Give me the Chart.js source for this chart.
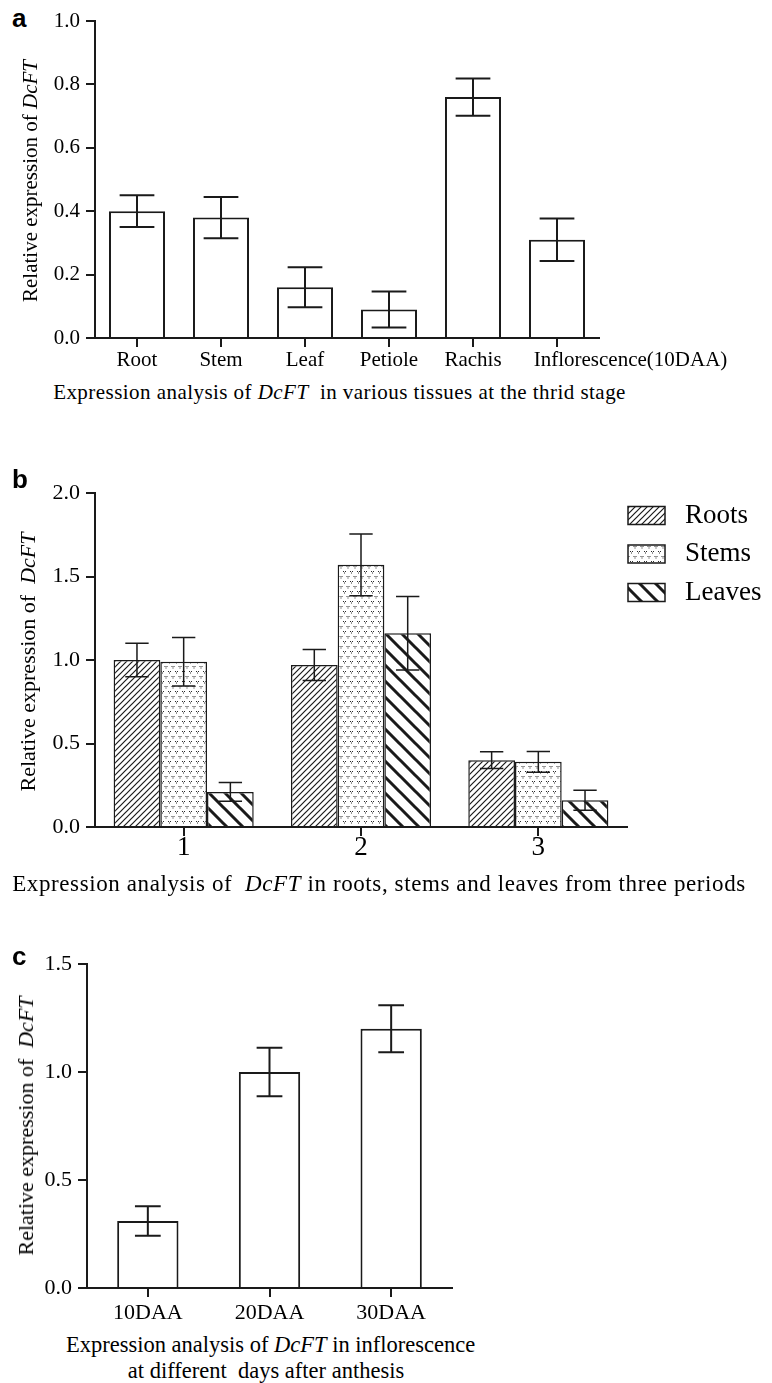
<!DOCTYPE html>
<html>
<head>
<meta charset="utf-8">
<script src="https://cdn.jsdelivr.net/npm/chart.js@4.4.0/dist/chart.umd.min.js"></script>
<style>
  html, body { margin: 0; padding: 0; background: #fff; }
  #page { position: relative; width: 772px; height: 1383px; overflow: hidden;
          font-family: "Liberation Serif", "Times New Roman", serif; color: #000; }
  canvas { position: absolute; left: 0; }
  .tag { position: absolute; left: 12px; font-family: "Liberation Sans", Arial, sans-serif;
         font-weight: bold; font-size: 26px; line-height: 26px; }
  .cap { position: absolute; white-space: nowrap; text-align: center; font-size: 21px; line-height: 20px; }
  .ytitle { position: absolute; white-space: nowrap; font-size: 21px; line-height: 20px;
            transform: translate(-50%, -50%) rotate(-90deg); }
</style>
</head>
<body>
<div id="page">
  <div class="tag" style="top:5px">a</div>
  <canvas id="chartTissues" width="772" height="376" style="top:0px"></canvas>
  <div class="ytitle" style="left:30px; top:181px">Relative expression of <i>DcFT</i></div>
  <div class="cap" style="left:52px; width:575px; top:382px; letter-spacing:0.45px">Expression analysis of <i>DcFT</i>&nbsp; in various tissues at the thrid stage</div>

  <div class="tag" style="top:466px">b</div>
  <canvas id="chartPeriods" width="772" height="430" style="top:440px"></canvas>
  <div class="ytitle" style="left:28px; top:662px; font-size:22px">Relative expression of&nbsp; <i>DcFT</i></div>
  <div class="cap" style="left:10px; width:738px; top:874px; font-size:23px; letter-spacing:0.6px">Expression analysis of&nbsp; <i>DcFT</i> in roots, stems and leaves from three periods</div>

  <div class="tag" style="top:943px">c</div>
  <canvas id="chartStages" width="772" height="400" style="top:930px"></canvas>
  <div class="ytitle" style="left:26px; top:1126px; font-size:22px">Relative expression of&nbsp; <i>DcFT</i></div>
  <div class="cap" style="left:66px; width:400px; top:1332px; line-height:26px; font-size:22.5px">Expression analysis of <i>DcFT</i> in inflorescence<br>at different&nbsp; days after anthesis</div>
</div>

<script>
// panel a
const tissueLabels = ['Root', 'Stem', 'Leaf', 'Petiole', 'Rachis', 'Inflorescence(10DAA)'];
const tissueMeans = [0.40, 0.38, 0.16, 0.09, 0.76, 0.31];
const tissueErrors = [0.05, 0.065, 0.063, 0.057, 0.059, 0.067];
const tissueTicks = [0, 0.2, 0.4, 0.6, 0.8, 1.0];

// panel b
const periodLabels = ['1', '2', '3'];
const rootsMeans = [1.00, 0.97, 0.40];
const rootsErrors = [0.10, 0.093, 0.05];
const stemsMeans = [0.99, 1.57, 0.39];
const stemsErrors = [0.145, 0.185, 0.062];
const leavesMeans = [0.21, 1.16, 0.16];
const leavesErrors = [0.056, 0.22, 0.06];
const periodTicks = [0, 0.5, 1.0, 1.5, 2.0];

// panel c
const stageLabels = ['10DAA', '20DAA', '30DAA'];
const stageMeans = [0.31, 1.00, 1.20];
const stageErrors = [0.068, 0.112, 0.109];
const stageTicks = [0, 0.5, 1.0, 1.5];

const ink = '#1a1a1a';

function hatch(size, width, dir) {
    const c = document.createElement('canvas');
    c.width = c.height = size;
    const g = c.getContext('2d');
    g.fillStyle = '#fff';
    g.fillRect(0, 0, size, size);
    g.strokeStyle = ink;
    g.lineWidth = width;
    g.beginPath();
    for (const k of [-size, 0, size]) {
        if (dir > 0) {
            g.moveTo(-2, size + k + 2); g.lineTo(size + 2, k - 2);
        } else {
            g.moveTo(-2, k - 2); g.lineTo(size + 2, size + k + 2);
        }
    }
    g.stroke();
    return g.createPattern(c, 'repeat');
}

// little three-dot marks, staggered
function dots() {
    const c = document.createElement('canvas');
    c.width = 7; c.height = 10;
    const g = c.getContext('2d');
    g.fillStyle = '#fff';
    g.fillRect(0, 0, 7, 10);
    g.fillStyle = '#2a2a2a';
    for (const [x, y] of [[1.5, 2], [5, 7]]) {
        g.fillRect(x - 1.5, y - 1, 1, 1);
        g.fillRect(x + 0.5, y - 1, 1, 1);
        g.fillRect(x - 0.5, y + 0.5, 1, 1);
    }
    return g.createPattern(c, 'repeat');
}

// mean +/- error whiskers drawn on top of the bars
const errorBars = {
    id: 'errorBars',
    afterDatasetsDraw(chart, args, opts) {
        const ctx = chart.ctx;
        const y = chart.scales.y;
        ctx.save();
        ctx.strokeStyle = ink;
        ctx.lineWidth = opts.lineWidth;
        chart.data.datasets.forEach((ds, i) => {
            chart.getDatasetMeta(i).data.forEach((bar, j) => {
                const top = y.getPixelForValue(ds.data[j] + ds.errors[j]);
                const bot = y.getPixelForValue(ds.data[j] - ds.errors[j]);
                const half = bar.width * opts.cap / 2;
                ctx.beginPath();
                ctx.moveTo(bar.x, top); ctx.lineTo(bar.x, bot);
                ctx.moveTo(bar.x - half, top); ctx.lineTo(bar.x + half, top);
                ctx.moveTo(bar.x - half, bot); ctx.lineTo(bar.x + half, bot);
                ctx.stroke();
            });
        });
        ctx.restore();
    }
};

// legend at the right of panel b
const sideLegend = {
    id: 'sideLegend',
    afterDraw(chart, args, opts) {
        const ctx = chart.ctx;
        const area = chart.chartArea;
        ctx.save();
        chart.data.datasets.forEach((ds, i) => {
            const x = area.right + opts.dx;
            const y = area.top + opts.dy + i * opts.gap;
            ctx.fillStyle = ds.backgroundColor;
            ctx.fillRect(x, y, opts.w, opts.h);
            ctx.strokeStyle = ink;
            ctx.lineWidth = 1.5;
            ctx.strokeRect(x, y, opts.w, opts.h);
            ctx.fillStyle = '#000';
            ctx.font = opts.font;
            ctx.textBaseline = 'middle';
            ctx.fillText(ds.label, x + opts.w + opts.textGap, y + opts.h / 2);
        });
        ctx.restore();
    }
};

function scales(ticks, yWidth, xHeight, xSize, ySize, xPad) {
    const line = { display: true, drawOnChartArea: false, offset: false, tickLength: 9, color: ink, lineWidth: 2 };
    return {
        x: {
            grid: line,
            border: { display: true, color: ink, width: 2 },
            ticks: { color: '#000', font: { family: 'Liberation Serif', size: xSize }, padding: xPad, maxRotation: 0, autoSkip: false },
            afterFit: s => { s.height = xHeight; }
        },
        y: {
            min: ticks[0],
            max: ticks[ticks.length - 1],
            grid: line,
            border: { display: true, color: ink, width: 2 },
            ticks: { color: '#000', font: { family: 'Liberation Serif', size: ySize }, padding: 6, callback: v => v.toFixed(1) },
            afterBuildTicks: s => { s.ticks = ticks.map(v => ({ value: v })); },
            afterFit: s => { s.width = yWidth; }
        }
    };
}

const tissueScales = scales(tissueTicks, 95, 38, 21, 21, 1);
// the long last label starts at its bar instead of being centred under it
tissueScales.x.ticks.callback = function (v, i) {
    const t = this.getLabelForValue(v);
    return i === tissueLabels.length - 1 ? '\u00a0'.repeat(28) + t : t;
};

const ctxTissues = document.getElementById('chartTissues').getContext('2d');
const chartTissues = new Chart(ctxTissues, {
    type: 'bar',
    data: {
        labels: tissueLabels,
        datasets: [{
            label: 'Relative expression',
            data: tissueMeans,
            errors: tissueErrors,
            backgroundColor: '#fff',
            borderColor: ink,
            borderWidth: 2,
            barPercentage: 1,
            categoryPercentage: 0.667
        }]
    },
    options: {
        responsive: false,
        animation: false,
        layout: { padding: { top: 21, left: 0, right: 173, bottom: 0 } },
        scales: tissueScales,
        plugins: {
            legend: { display: false },
            tooltip: { enabled: false },
            errorBars: { cap: 0.62, lineWidth: 2 }
        }
    },
    plugins: [errorBars]
});

const ctxPeriods = document.getElementById('chartPeriods').getContext('2d');
const chartPeriods = new Chart(ctxPeriods, {
    type: 'bar',
    data: {
        labels: periodLabels,
        datasets: [{
            label: 'Roots',
            data: rootsMeans,
            errors: rootsErrors,
            backgroundColor: hatch(6, 1.2, 1)
        },
        {
            label: 'Stems',
            data: stemsMeans,
            errors: stemsErrors,
            backgroundColor: dots()
        },
        {
            label: 'Leaves',
            data: leavesMeans,
            errors: leavesErrors,
            backgroundColor: hatch(16, 3, -1)
        }].map(ds => Object.assign(ds, {
            borderColor: ink,
            borderWidth: 1.5,
            barPercentage: 1,
            categoryPercentage: 0.79
        }))
    },
    options: {
        responsive: false,
        animation: false,
        layout: { padding: { top: 53, left: 0, right: 145, bottom: 0 } },
        scales: scales(periodTicks, 95, 43, 27, 22, -4),
        plugins: {
            legend: { display: false },
            tooltip: { enabled: false },
            errorBars: { cap: 0.5, lineWidth: 1.5 },
            sideLegend: { dx: 1, dy: 13.5, gap: 38.5, w: 37, h: 18, textGap: 20, font: '27px "Liberation Serif"' }
        }
    },
    plugins: [errorBars, sideLegend]
});

const ctxStages = document.getElementById('chartStages').getContext('2d');
const chartStages = new Chart(ctxStages, {
    type: 'bar',
    data: {
        labels: stageLabels,
        datasets: [{
            label: 'Relative expression',
            data: stageMeans,
            errors: stageErrors,
            backgroundColor: '#fff',
            borderColor: ink,
            borderWidth: 2,
            barPercentage: 1,
            categoryPercentage: 0.504
        }]
    },
    options: {
        responsive: false,
        animation: false,
        layout: { padding: { top: 34, left: 0, right: 320, bottom: 0 } },
        scales: scales(stageTicks, 87, 42, 22, 22, 3),
        plugins: {
            legend: { display: false },
            tooltip: { enabled: false },
            errorBars: { cap: 0.42, lineWidth: 2 }
        }
    },
    plugins: [errorBars]
});
</script>
</body>
</html>
